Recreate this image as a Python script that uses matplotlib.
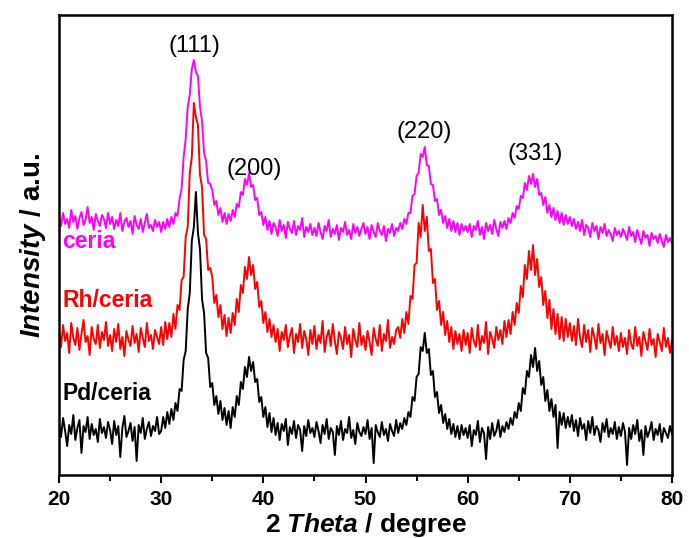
import numpy as np
import matplotlib
matplotlib.use("Agg")
import matplotlib.pyplot as plt
from matplotlib.ticker import MultipleLocator, NullLocator

plt.rcParams['font.family'] = ['Liberation Sans', 'DejaVu Sans']
plt.rcParams['mathtext.fontset'] = 'custom'
plt.rcParams['mathtext.it'] = 'Liberation Sans:italic:bold'
plt.rcParams['mathtext.rm'] = 'Liberation Sans:bold'
plt.rcParams['mathtext.bf'] = 'Liberation Sans:bold'

# intensity every 0.2 degree, 20..80 (offset stacked, a.u.)
ceria = [
    258, 249, 262, 251, 256, 247, 265, 253, 259, 246, 257, 263, 250, 255, 268, 252, 258, 245, 261, 254, 249, 260, 256, 247, 262,
    251, 258, 246, 255, 249, 262, 244, 253, 257, 248, 254, 241, 259, 250, 246, 256, 243, 252, 261, 247, 250, 244, 255, 248, 253,
    243, 253, 246, 256, 248, 258, 251, 262, 259, 276, 286, 318, 336, 368, 380, 406, 415, 403, 399, 368, 354, 322, 314, 292, 291,
    285, 270, 274, 260, 267, 253, 262, 251, 261, 254, 265, 258, 271, 268, 283, 280, 296, 290, 302, 288, 290, 275, 277, 260, 263,
    250, 258, 245, 254, 241, 252, 248, 239, 255, 244, 250, 237, 253, 246, 242, 254, 240, 249, 245, 257, 238, 248, 243, 251, 240,
    247, 239, 252, 243, 236, 249, 244, 255, 238, 246, 241, 250, 235, 247, 243, 253, 240, 245, 236, 251, 242, 248, 239, 246, 252,
    241, 248, 236, 250, 243, 238, 252, 244, 240, 249, 234, 246, 242, 251, 239, 247, 244, 252, 246, 256, 251, 262, 262, 279, 281,
    299, 302, 321, 318, 328, 310, 309, 291, 290, 274, 276, 260, 265, 252, 259, 247, 256, 244, 254, 243, 252, 240, 251, 244, 249,
    243, 251, 238, 249, 245, 254, 240, 248, 236, 252, 244, 250, 241, 255, 246, 239, 253, 247, 254, 246, 257, 252, 262, 257, 269,
    266, 279, 277, 292, 285, 299, 291, 301, 288, 296, 280, 282, 270, 278, 262, 270, 258, 267, 255, 264, 252, 262, 250, 260, 251,
    258, 249, 256, 246, 253, 244, 255, 240, 250, 247, 238, 252, 244, 249, 236, 248, 242, 251, 239, 245, 241, 234, 247, 240, 244,
    238, 246, 241, 235, 248, 239, 243, 233, 245, 238, 231, 244, 237, 240, 229, 242, 236, 239, 232, 241, 234, 228, 240, 233, 237,
    232,
]
rh_ceria = [
    145, 128, 150, 134, 142, 122, 152, 137, 130, 147, 125, 141, 155, 133, 139, 120, 148, 136, 131, 150, 127, 143, 135, 153, 129,
    140, 124, 146, 133, 151, 126, 138, 119, 144, 135, 129, 149, 132, 141, 123, 147, 137, 128, 152, 134, 140, 126, 145, 138, 131,
    148, 130, 153, 136, 152, 138, 161, 146, 170, 165, 195, 198, 238, 248, 302, 318, 372, 358, 350, 300, 288, 240, 236, 205, 207,
    198, 172, 180, 158, 170, 146, 160, 139, 157, 142, 162, 150, 176, 163, 190, 182, 208, 196, 218, 200, 210, 186, 193, 168, 174,
    152, 163, 143, 156, 138, 150, 133, 146, 124, 143, 135, 150, 128, 139, 147, 122, 141, 133, 151, 127, 144, 136, 120, 145, 131,
    149, 126, 140, 132, 154, 123, 138, 145, 129, 151, 134, 121, 143, 137, 126, 148, 131, 140, 118, 146, 135, 128, 152, 130, 139,
    125, 144, 133, 120, 147, 136, 129, 150, 124, 141, 134, 155, 127, 138, 131, 145, 148, 137, 156, 142, 163, 151, 179, 176, 210,
    212, 252, 238, 270, 244, 258, 224, 226, 192, 196, 165, 174, 150, 163, 140, 154, 133, 148, 126, 144, 131, 141, 124, 145, 130,
    142, 122, 147, 134, 128, 150, 125, 139, 132, 153, 121, 143, 136, 127, 148, 135, 145, 131, 154, 138, 155, 141, 163, 150, 172,
    162, 189, 178, 210, 196, 224, 205, 230, 200, 216, 188, 198, 170, 184, 157, 175, 146, 166, 141, 161, 136, 158, 134, 156, 138,
    152, 134, 149, 130, 156, 137, 128, 150, 133, 145, 123, 147, 138, 126, 151, 132, 141, 120, 144, 135, 127, 148, 130, 139, 124,
    142, 128, 137, 121, 145, 131, 126, 148, 129, 138, 119, 143, 134, 125, 146, 130, 136, 118, 141, 133, 124, 147, 128, 137, 122,
    134,
]
pd_ceria = [
    52, 38, 57, 44, 29, 50, 41, 60, 35, 47, 55, 22, 49, 43, 58, 36, 51, 40, 46, 33, 56, 42, 48, 37, 53,
    45, 31, 54, 40, 49, 18, 47, 59, 38, 44, 52, 34, 48, 14, 50, 42, 57, 36, 46, 53, 39, 49, 44, 58, 41,
    44, 58, 47, 63, 51, 66, 55, 72, 64, 86, 84, 115, 124, 166, 182, 234, 248, 283, 242, 226, 176, 162, 122, 117, 88,
    92, 70, 79, 61, 74, 55, 67, 50, 64, 47, 68, 58, 79, 70, 93, 86, 108, 98, 118, 104, 113, 93, 96, 73, 78,
    58, 68, 48, 62, 43, 57, 40, 52, 35, 51, 44, 56, 30, 48, 41, 54, 37, 50, 45, 24, 49, 39, 55, 42, 47,
    38, 53, 44, 32, 50, 41, 56, 36, 47, 43, 20, 49, 40, 54, 35, 46, 42, 58, 37, 45, 31, 52, 43, 39, 48,
    41, 55, 36, 47, 12, 50, 43, 38, 53, 40, 46, 34, 51, 44, 39, 55, 42, 52, 46, 57, 50, 63, 58, 78, 74,
    98, 101, 128, 124, 142, 122, 126, 100, 104, 78, 83, 62, 70, 52, 61, 46, 56, 41, 51, 38, 49, 36, 50, 40, 47,
    37, 50, 29, 45, 40, 54, 33, 47, 42, 16, 48, 36, 52, 39, 44, 55, 38, 49, 43, 53, 46, 57, 50, 63, 57,
    72, 64, 87, 81, 104, 98, 120, 108, 127, 104, 114, 90, 98, 74, 85, 64, 76, 58, 70, 27, 63, 50, 62, 47, 58,
    48, 60, 44, 55, 39, 57, 46, 51, 35, 54, 42, 58, 40, 49, 45, 33, 52, 43, 56, 38, 47, 41, 53, 36, 48,
    39, 52, 43, 10, 47, 36, 50, 41, 55, 34, 45, 20, 49, 38, 44, 53, 35, 46, 40, 51, 33, 47, 42, 37, 49,
    41,
]
two_theta = np.linspace(20, 80, 301)
assert len(ceria) == len(rh_ceria) == len(pd_ceria) == len(two_theta)

series_names = ['ceria', 'Rh/ceria', 'Pd/ceria']
series_colors = ['#ff00ff', '#ff0000', '#000000']
series_label_pos = [(20.3, 227), (20.3, 168), (20.3, 75)]

peak_labels = ['(111)', '(200)', '(220)', '(331)']
peak_label_pos = [(33.3, 423), (39.1, 300), (55.7, 337), (66.6, 315)]

fig = plt.figure(figsize=(6.89, 5.38), dpi=100)
ax = fig.add_axes([59 / 689, 63 / 538, 613 / 689, 460 / 538])

for y, c in zip([ceria, rh_ceria, pd_ceria], series_colors):
    ax.plot(two_theta, y, color=c, lw=1.4)

for name, c, (x, y) in zip(series_names, series_colors, series_label_pos):
    ax.text(x, y, name, color=c, fontsize=16.5, fontweight='bold', ha='left', va='baseline')

for lab, (x, y) in zip(peak_labels, peak_label_pos):
    ax.text(x, y, lab, color='black', fontsize=17, ha='center', va='baseline')

ax.set_xlim(20, 80)
ax.set_ylim(0, 460)
ax.xaxis.set_major_locator(MultipleLocator(10))
ax.xaxis.set_minor_locator(MultipleLocator(5))
ax.yaxis.set_major_locator(NullLocator())
ax.tick_params(axis='x', which='major', direction='out', length=6, width=1.5, labelsize=15, pad=5)
ax.tick_params(axis='x', which='minor', direction='out', length=4, width=1.5)
for lab in ax.get_xticklabels():
    lab.set_fontweight('bold')
for s in ax.spines.values():
    s.set_linewidth(1.8)

ax.set_xlabel(r'2 $\mathit{Theta}$ / degree', fontsize=19, fontweight='bold', labelpad=1)
ax.set_ylabel(r'$\mathit{Intensity}$ / a.u.', fontsize=20, fontweight='bold', labelpad=8)

fig.savefig('out.png', dpi=100)
